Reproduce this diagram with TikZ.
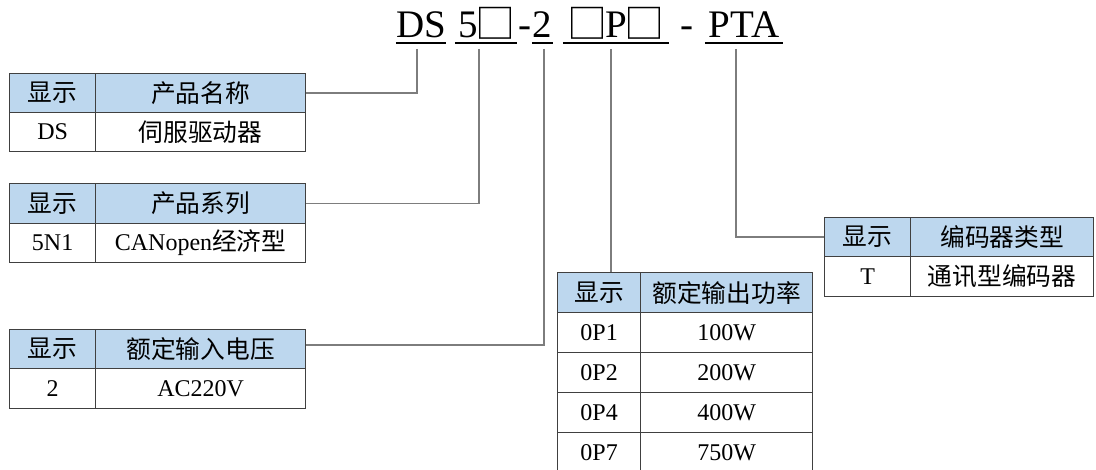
\documentclass[tikz,border=0pt]{standalone}
\usepackage{fontspec}
\setmainfont{Liberation Serif}
\newfontfamily\cjk{Noto Sans CJK SC}[Scale=1.03]
\newfontfamily\cjkbox{Noto Sans CJK SC}
\definecolor{hdrblue}{RGB}{189,215,238}
\definecolor{bordergray}{RGB}{64,64,64}
\definecolor{linkgray}{RGB}{125,125,125}
\tikzset{
  cell/.style={draw=bordergray, line width=1.2pt, anchor=north west, inner sep=0pt,
    font=\fontsize{24}{28}\selectfont},
  hcell/.style={cell, fill=hdrblue},
  link/.style={draw=linkgray, line width=1.3pt},
  seg/.style={inner sep=0pt, anchor=base, font=\fontsize{39}{44}\selectfont},
  uline/.style={line width=1.6pt},
}
\newcommand\sq{\makebox[36pt]{\smash{\raisebox{-1pt}{\cjkbox\fontsize{40}{40}\selectfont □}}}}
\begin{document}
\begin{tikzpicture}[x=1pt,y=-1pt]
\useasboundingbox (0,0) rectangle (1096,470);
\clip (0,0) rectangle (1096,470);
% title
\node[seg, minimum width=48pt] (ds) at (421,38) {DS};
\node[seg, minimum width=62pt] (s5) at (486,38) {5\sq};
\node[seg] (d1) at (525,38) {-};
\node[seg, minimum width=21pt] (s2) at (542.5,38) {2};
\node[seg, minimum width=106pt] (sp) at (616,38) {\sq P\sq};
\node[seg] (d2) at (687,38) {-};
\node[seg, minimum width=78pt] (pta) at (744,38) {PTA};
\foreach \n in {ds,s5,s2,sp,pta}
  \draw[uline] ([yshift=-5pt]\n.base west) -- ([yshift=-5pt]\n.base east);
\coordinate (c1) at (417,49);
\coordinate (c2) at (479,49);
\coordinate (c3) at (544,49);
\coordinate (c4) at (611,49);
\coordinate (c5) at (736,49);
% table 1
\node[hcell, minimum width=86pt, minimum height=39pt] (t1a) at (9,73) {\cjk 显示};
\node[hcell, minimum width=210pt, minimum height=39pt] (t1b) at (95,73) {\cjk 产品名称};
\node[cell, minimum width=86pt, minimum height=39pt] (t1c) at (9,112) {DS};
\node[cell, minimum width=210pt, minimum height=39pt] (t1d) at (95,112) {\cjk 伺服驱动器};
% table 2
\node[hcell, minimum width=86pt, minimum height=40pt] (t2a) at (9,183) {\cjk 显示};
\node[hcell, minimum width=210pt, minimum height=40pt] (t2b) at (95,183) {\cjk 产品系列};
\node[cell, minimum width=86pt, minimum height=39pt] (t2c) at (9,223) {5N1};
\node[cell, minimum width=210pt, minimum height=39pt] (t2d) at (95,223) {CANopen{\cjk 经济型}};
% table 3
\node[hcell, minimum width=86pt, minimum height=39pt] (t3a) at (9,329) {\cjk 显示};
\node[hcell, minimum width=210pt, minimum height=39pt] (t3b) at (95,329) {\cjk 额定输入电压};
\node[cell, minimum width=86pt, minimum height=40pt] (t3c) at (9,368) {2};
\node[cell, minimum width=210pt, minimum height=40pt] (t3d) at (95,368) {AC220V};
% power table
\node[hcell, minimum width=83pt, minimum height=40pt] (t4a) at (557,272) {\cjk 显示};
\node[hcell, minimum width=172pt, minimum height=40pt] (t4b) at (640,272) {\cjk 额定输出功率};
\node[cell, minimum width=83pt, minimum height=40pt] (t4c) at (557,312) {0P1};
\node[cell, minimum width=172pt, minimum height=40pt] (t4d) at (640,312) {100W};
\node[cell, minimum width=83pt, minimum height=40pt] (t4e) at (557,352) {0P2};
\node[cell, minimum width=172pt, minimum height=40pt] (t4f) at (640,352) {200W};
\node[cell, minimum width=83pt, minimum height=40pt] (t4g) at (557,392) {0P4};
\node[cell, minimum width=172pt, minimum height=40pt] (t4h) at (640,392) {400W};
\node[cell, minimum width=83pt, minimum height=40pt] (t4i) at (557,432) {0P7};
\node[cell, minimum width=172pt, minimum height=40pt] (t4j) at (640,432) {750W};
% encoder table
\node[hcell, minimum width=86pt, minimum height=39pt] (t5a) at (824,217) {\cjk 显示};
\node[hcell, minimum width=183pt, minimum height=39pt] (t5b) at (910,217) {\cjk 编码器类型};
\node[cell, minimum width=86pt, minimum height=40pt] (t5c) at (824,256) {T};
\node[cell, minimum width=183pt, minimum height=40pt] (t5d) at (910,256) {\cjk 通讯型编码器};
% connectors
\draw[link] (c1) |- (t1b.east);
\draw[link] (c2) |- (t2b.east);
\draw[link] (c3) |- ([yshift=4pt]t3b.east);
\draw[link] (c4) -- (c4 |- t4a.north);
\draw[link] (c5) |- (t5a.west);
\end{tikzpicture}
\end{document}
